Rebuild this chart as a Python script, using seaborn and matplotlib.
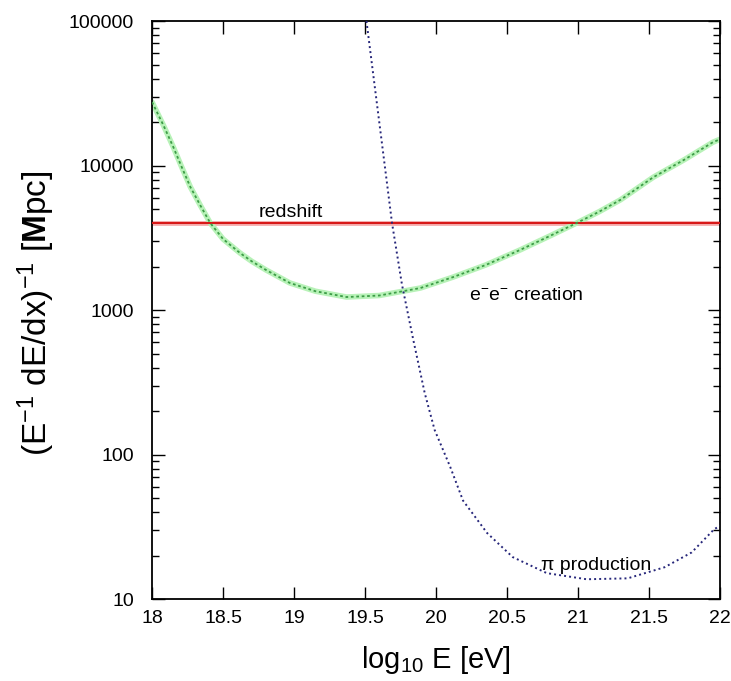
import numpy as np
import pandas as pd
import matplotlib
matplotlib.use("Agg")
import matplotlib.pyplot as plt
import seaborn as sns

# energy-loss lengths [Mpc], vs log10 E [eV]
log_e_pair = [18.0, 18.08, 18.15, 18.21, 18.27, 18.34, 18.41, 18.5, 18.62, 18.7, 18.8,
              18.97, 19.15, 19.37, 19.6, 19.89, 20.12, 20.35, 20.59, 20.8, 20.99,
              21.15, 21.3, 21.53, 21.75, 21.95, 22.0]
pair_len = [27500, 19000, 13400, 9700, 7100, 5300, 4000, 3100, 2480, 2180, 1900,
            1540, 1350, 1230, 1260, 1420, 1690, 2050, 2600, 3250, 4000,
            4800, 5800, 8300, 11000, 14500, 15200]

log_e_pion = [19.51, 19.6, 19.69, 19.76, 19.84, 19.92, 19.99, 20.1, 20.19, 20.36,
              20.54, 20.78, 21.06, 21.35, 21.61, 21.8, 21.96, 22.0]
pion_len = [100000, 20000, 4000, 1500, 620, 267, 148, 82, 48, 28.6,
            19.5, 15.1, 13.7, 13.9, 16.6, 21, 30.5, 32]

redshift_len = 4000

x_ticks = [18, 18.5, 19, 19.5, 20, 20.5, 21, 21.5, 22]
x_tick_labels = ["18", "18.5", "19", "19.5", "20", "20.5", "21", "21.5", "22"]
y_ticks = [10, 100, 1000, 10000, 100000]
y_tick_labels = ["10", "100", "1000", "10000", "100000"]

sns.set_theme(style="white")
plt.rcParams["font.family"] = ["Liberation Sans", "DejaVu Sans"]
plt.rcParams["mathtext.fontset"] = "custom"
plt.rcParams["mathtext.rm"] = "Liberation Sans"
plt.rcParams["mathtext.it"] = "Liberation Sans:italic"
plt.rcParams["mathtext.bf"] = "Liberation Sans:bold"
plt.rcParams["text.color"] = "black"
plt.rcParams["axes.labelcolor"] = "black"
plt.rcParams["xtick.color"] = "black"
plt.rcParams["ytick.color"] = "black"

fig = plt.figure(figsize=(7.31, 6.81), dpi=100)
ax = fig.add_axes([0.208, 0.1204, 0.777, 0.8487])

pair = pd.DataFrame({"x": log_e_pair, "y": pair_len})
pion = pd.DataFrame({"x": log_e_pion, "y": pion_len})

ax.axhline(redshift_len, color="#f6b0b0", lw=3.5, zorder=2)
ax.axhline(redshift_len, color="#d81818", lw=1.5, zorder=3)
sns.lineplot(data=pair, x="x", y="y", ax=ax, color="#b8f2b8", lw=4, zorder=2)
sns.lineplot(data=pair, x="x", y="y", ax=ax, color="#3c9c46", lw=1.3,
             linestyle=(0, (1.5, 1.5)), zorder=3)
sns.lineplot(data=pion, x="x", y="y", ax=ax, color="#26267a", lw=1.4,
             linestyle=(0, (1, 1.6)), zorder=3)

ax.set_yscale("log")
ax.set_xlim(18, 22)
ax.set_ylim(10, 100000)
ax.set_xticks(x_ticks)
ax.set_xticklabels(x_tick_labels)
ax.set_yticks(y_ticks)
ax.set_yticklabels(y_tick_labels)
ax.yaxis.set_minor_locator(matplotlib.ticker.LogLocator(base=10, subs=np.arange(2, 10)))
ax.yaxis.set_minor_formatter(matplotlib.ticker.NullFormatter())
ax.tick_params(which="both", direction="in", top=True, right=True, left=True,
               bottom=True, labelsize=14, color="black", labelcolor="black", width=1)
ax.tick_params(which="major", length=9)
ax.tick_params(which="minor", length=5)
ax.tick_params(axis="x", which="minor", length=0)
ax.tick_params(axis="x", pad=8)
ax.tick_params(axis="y", pad=13)
for s in ax.spines.values():
    s.set_color("black")
    s.set_linewidth(1.3)

ax.text(18.75, 4400, "redshift", fontsize=14, color="black")
ax.text(20.23, 1180, r"e$^{-}$e$^{-}$ creation", fontsize=14, color="black")
ax.text(20.74, 16, "π production", fontsize=14, color="black")

ax.set_xlabel(r"log$_{10}$ E [eV]", fontsize=21, labelpad=12, color="black")
ax.set_ylabel(r"(E$^{-1}$ dE/dx)$^{-1}$ [$\mathbf{M}$pc]", fontsize=24, color="black")
ax.yaxis.set_label_coords(-0.168, 0.495)

fig.savefig("out.png", dpi=100)
